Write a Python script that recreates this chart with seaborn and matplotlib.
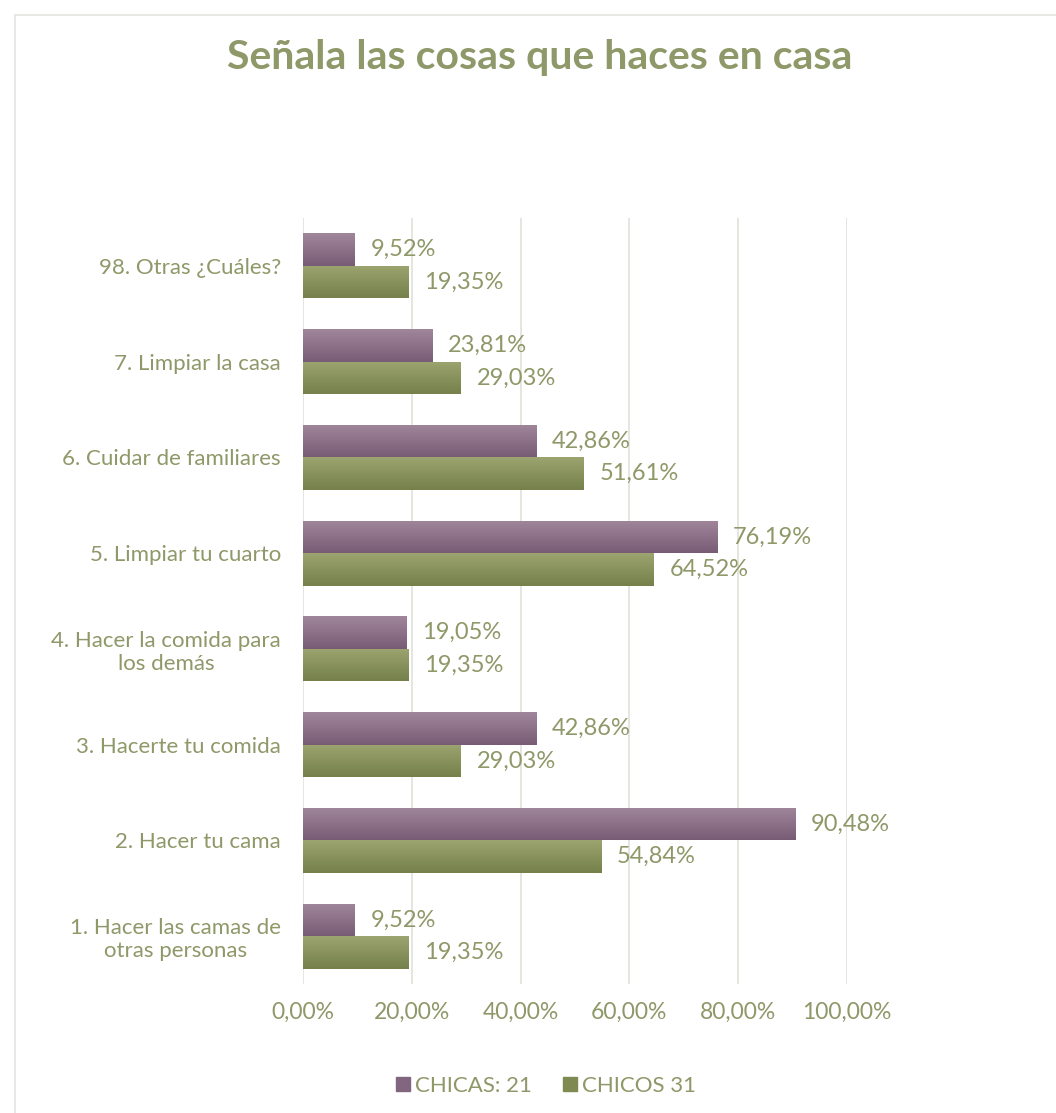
import numpy as np
import pandas as pd
import matplotlib
matplotlib.use("Agg")
import matplotlib.pyplot as plt
import seaborn as sns
from matplotlib.patches import Rectangle
from matplotlib.lines import Line2D
from matplotlib.colors import LinearSegmentedColormap

# --- data -----------------------------------------------------------------
categories = [
    "98. Otras ¿Cuáles?",
    "7. Limpiar la casa",
    "6. Cuidar de familiares",
    "5. Limpiar tu cuarto",
    "4. Hacer la comida para\nlos demás",
    "3. Hacerte tu comida",
    "2. Hacer tu cama",
    "1. Hacer las camas de\notras personas",
]
chicas = [9.52, 23.81, 42.86, 76.19, 19.05, 42.86, 90.48, 9.52]
chicos = [19.35, 29.03, 51.61, 64.52, 19.35, 29.03, 54.84, 19.35]
series_names = ["CHICAS: 21", "CHICOS 31"]
x_ticks = [0, 20, 40, 60, 80, 100]
title = "Señala las cosas que haces en casa"

# --- style ----------------------------------------------------------------
sns.set_theme(style="white")
plt.rcParams["font.family"] = ["Lato", "DejaVu Sans"]
TEXT = "#8e9868"
purple_top, purple_bot = "#a0869b", "#785c75"
green_top, green_bot = "#9ca46f", "#75804a"
grad = {series_names[0]: (purple_top, purple_bot),
        series_names[1]: (green_top, green_bot)}

df = pd.DataFrame({
    "categoria": categories * 2,
    "valor": chicas + chicos,
    "grupo": [series_names[0]] * len(categories) + [series_names[1]] * len(categories),
})

fig = plt.figure(figsize=(10.56, 11.13), dpi=100)
# chart frame
fig.patches.append(Rectangle((15 / 1056, -0.02), 1.1, 1 - 15 / 1113 + 0.02,
                             transform=fig.transFigure, fill=False,
                             edgecolor="#e4e4e0", linewidth=1.2))

ax = fig.add_axes([303 / 1056, 1 - 984 / 1113, 544 / 1056, 766 / 1113])
sns.barplot(data=df, y="categoria", x="valor", hue="grupo", order=categories,
            hue_order=series_names, orient="h", width=0.68, dodge=True,
            palette=[purple_bot, green_bot], ax=ax, legend=False, saturation=1)

ax.set_xlim(0, 100)
ylim = ax.get_ylim()

# vertical gradient fill on each bar
gradient = np.linspace(0, 1, 64).reshape(-1, 1)
n = len(categories)
for i, bar in enumerate(ax.patches[: 2 * n]):
    name = series_names[i // n]
    cmap = LinearSegmentedColormap.from_list(name, list(grad[name]))
    x0, y0 = bar.get_x(), bar.get_y()
    w, h = bar.get_width(), bar.get_height()
    img = ax.imshow(gradient, cmap=cmap, aspect="auto", origin="upper",
                    extent=(x0, x0 + w, y0 + h, y0), zorder=2)
    img.set_clip_path(bar)
    bar.set_facecolor("none")
    bar.set_edgecolor("none")

    vals = chicas if i < n else chicos
    v = vals[i % n]
    ax.text(v + 2.9, y0 + h / 2, f"{v:.2f}%".replace(".", ","),
            va="center", ha="left", color=TEXT, fontsize=17)

ax.set_ylim(ylim)
ax.set_xticks(x_ticks)
ax.set_xticklabels([f"{t:.2f}%".replace(".", ",") for t in x_ticks],
                   color=TEXT, fontsize=16.5)
ax.tick_params(axis="x", pad=13, length=0)
ax.tick_params(axis="y", pad=16, length=0)
for lbl in ax.get_yticklabels():
    lbl.set_color(TEXT)
    lbl.set_fontsize(16)
    lbl.set_multialignment("center")
ax.set_xlabel("")
ax.set_ylabel("")
ax.grid(axis="x", color="#e6e6e0", linewidth=1.4)
ax.set_axisbelow(True)
for s in ax.spines.values():
    s.set_visible(False)

fig.text(540 / 1056, 1 - 58 / 1113, title, ha="center", va="center",
         color=TEXT, fontsize=29.5, fontweight="bold")

handles = [Line2D([], [], marker="s", linestyle="none", markersize=10,
                  markerfacecolor=c, markeredgecolor=c)
           for c in ["#82667f", "#7f8a52"]]
leg = fig.legend(handles, series_names, loc="center",
                 bbox_to_anchor=(545 / 1056, 1 - 1086 / 1113), ncol=2,
                 frameon=False, fontsize=16, handletextpad=0.15,
                 columnspacing=1.3, handlelength=0.8)
for t in leg.get_texts():
    t.set_color(TEXT)

fig.savefig("out.png", dpi=100, facecolor="white")
